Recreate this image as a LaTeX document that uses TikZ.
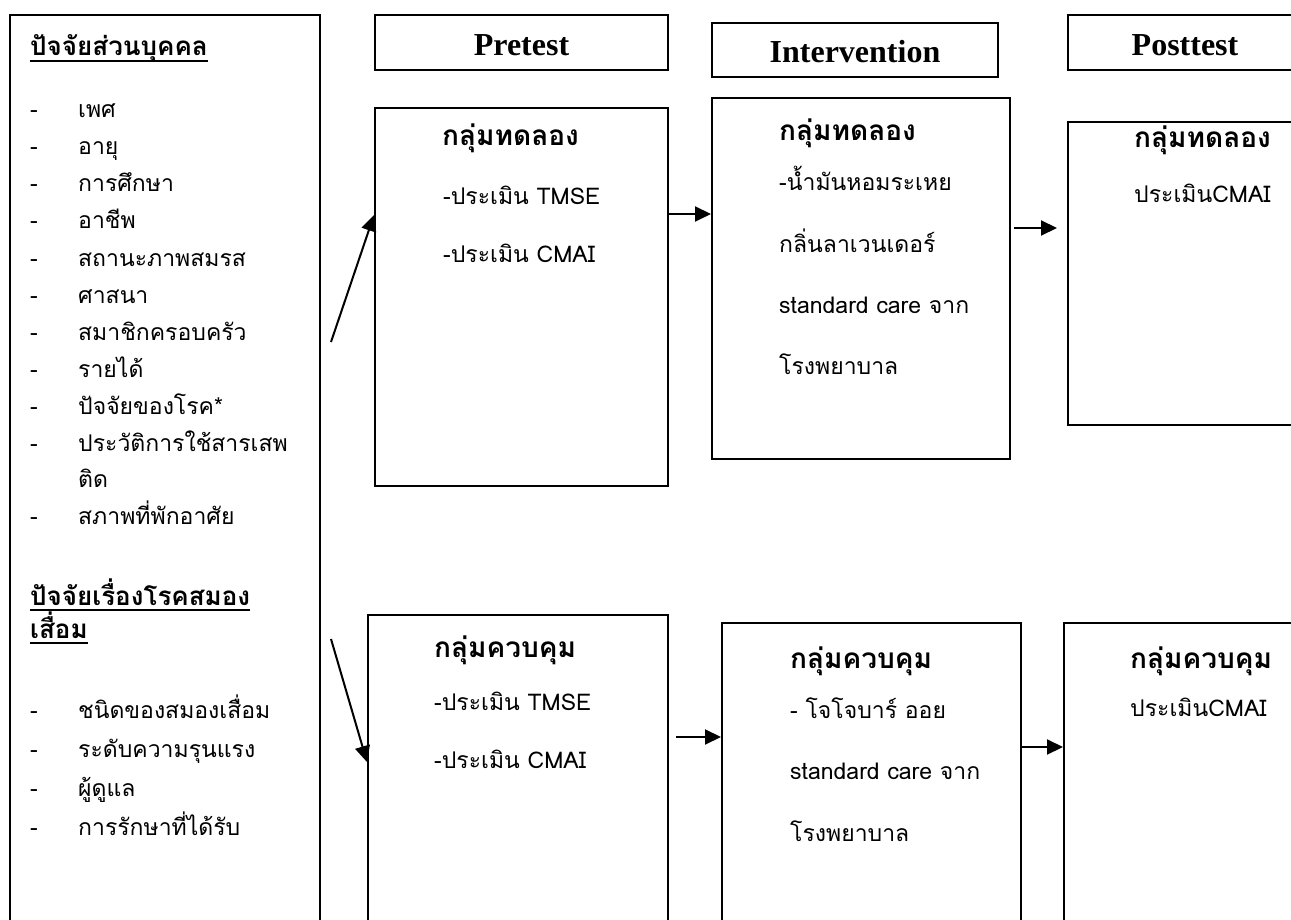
\documentclass[tikz,border=0pt]{standalone}
\usepackage{fontspec}
\setmainfont[Script=Thai]{Loma}
\newfontfamily\hdrfont{Liberation Serif}
\usetikzlibrary{arrows.meta}

\tikzset{
  box/.style={draw, line width=2pt, anchor=north west, inner sep=0pt},
  hdr/.style={font=\hdrfont\bfseries\fontsize{32}{36}\selectfont, text height=26pt, text depth=0pt},
  txt/.style={anchor=base west, inner sep=0pt, font=\fontsize{23}{28}\selectfont},
  grp/.style={anchor=base west, inner sep=0pt, font=\bfseries\fontsize{28}{32}\selectfont},
  fac/.style={anchor=base west, inner sep=0pt, font=\bfseries\fontsize{26}{30}\selectfont},
  uline/.style={line width=1.2pt},
}

\begin{document}
\begin{tikzpicture}[x=1pt,y=-1pt,>={Triangle[length=16pt,width=15pt]}]
  \useasboundingbox (0,0) rectangle (1291,920);
  \clip (0,0) rectangle (1291,920);

  % กรอบปัจจัย
  \node[box, minimum width=310pt, minimum height=940pt] (pers) at (9,14) {};
  \node[fac] (persHead) at (30,56) {ปัจจัยส่วนบุคคล};
  \draw[uline] ([yshift=-5pt]persHead.base west) -- ([yshift=-5pt]persHead.base east);
  \foreach \y/\t in {118/เพศ, 155/อายุ, 192/การศึกษา, 229/อาชีพ, 266/สถานะภาพสมรส,
      303/ศาสนา, 340/สมาชิกครอบครัว, 377/รายได้, 414/ปัจจัยของโรค*,
      451/ประวัติการใช้สารเสพ, 524/สภาพที่พักอาศัย}
    {\node[txt] (pd\y) at (30,\y) {-};
     \node[txt] (pi\y) at (78,\y) {\t};}
  \node[txt] (pi487) at (78,487) {ติด};
  \node[fac] (dsHead) at (30,605) {ปัจจัยเรื่องโรคสมอง};
  \node[fac] (dsHeadb) at (30,638) {เสื่อม};
  \draw[uline] ([yshift=-5pt]dsHead.base west) -- ([yshift=-5pt]dsHead.base east);
  \draw[uline] ([yshift=-5pt]dsHeadb.base west) -- ([yshift=-5pt]dsHeadb.base east);
  \foreach \y/\t in {718/ชนิดของสมองเสื่อม, 757/ระดับความรุนแรง, 796/ผู้ดูแล, 835/การรักษาที่ได้รับ}
    {\node[txt] (dd\y) at (30,\y) {-};
     \node[txt] (di\y) at (78,\y) {\t};}

  % หัวข้อ
  \node[box, hdr, minimum width=293pt, minimum height=55pt] (hdrPre) at (374,14) {Pretest};
  \node[box, hdr, minimum width=286pt, minimum height=54pt] (hdrInt) at (711,22) {Intervention};
  \node[box, hdr, minimum width=234pt, minimum height=55pt] (hdrPost) at (1067,14) {Posttest};

  % กลุ่มทดลอง
  \node[box, minimum width=293pt, minimum height=378pt] (preExp) at (374,107) {};
  \node[grp] (preExpHead) at (442,146) {กลุ่มทดลอง};
  \node[txt] (preExpA) at (443,205) {-ประเมิน TMSE};
  \node[txt] (preExpB) at (443,263) {-ประเมิน CMAI};

  \node[box, minimum width=298pt, minimum height=361pt] (intExp) at (711,97) {};
  \node[grp] (intExpHead) at (779,141) {กลุ่มทดลอง};
  \node[txt] (intExpA) at (779,191) {-น้ำมันหอมระเหย};
  \node[txt] (intExpB) at (779,253) {กลิ่นลาเวนเดอร์};
  \node[txt] (intExpC) at (779,313) {standard care จาก};
  \node[txt] (intExpD) at (779,374) {โรงพยาบาล};

  \node[box, minimum width=234pt, minimum height=303pt] (postExp) at (1067,121) {};
  \node[grp] (postExpHead) at (1134,148) {กลุ่มทดลอง};
  \node[txt] (postExpA) at (1134,203) {ประเมินCMAI};

  % กลุ่มควบคุม
  \node[box, minimum width=300pt, minimum height=320pt] (preCtl) at (367,614) {};
  \node[grp] (preCtlHead) at (434,657) {กลุ่มควบคุม};
  \node[txt] (preCtlA) at (434,710) {-ประเมิน TMSE};
  \node[txt] (preCtlB) at (434,768) {-ประเมิน CMAI};

  \node[box, minimum width=299pt, minimum height=320pt] (intCtl) at (721,622) {};
  \node[grp] (intCtlHead) at (790,668) {กลุ่มควบคุม};
  \node[txt] (intCtlA) at (790,718) {- โจโจบาร์ ออย};
  \node[txt] (intCtlB) at (790,779) {standard care จาก};
  \node[txt] (intCtlC) at (790,841) {โรงพยาบาล};

  \node[box, minimum width=238pt, minimum height=320pt] (postCtl) at (1063,622) {};
  \node[grp] (postCtlHead) at (1130,668) {กลุ่มควบคุม};
  \node[txt] (postCtlA) at (1130,716) {ประเมินCMAI};

  % ลูกศร
  \coordinate (upStart) at (331,342);
  \coordinate (lowStart) at (331,639);
  \coordinate (expGap) at (1057,228);
  \coordinate (ctlGap) at (676,737);
  \draw[line width=2pt,->] (upStart) -- (preExp.west |- 0,215);
  \draw[line width=2pt,->] (preExp.east |- 0,214) -- (intExp.west |- 0,214);
  \draw[line width=2pt,->] ([xshift=3pt]intExp.east |- 0,228) -- (expGap);
  \draw[line width=2pt,->] (lowStart) -- (preCtl.west |- 0,762);
  \draw[line width=2pt,->] (ctlGap) -- (intCtl.west |- 0,737);
  \draw[line width=2pt,->] (intCtl.east |- 0,747) -- (postCtl.west |- 0,747);
\end{tikzpicture}
\end{document}
